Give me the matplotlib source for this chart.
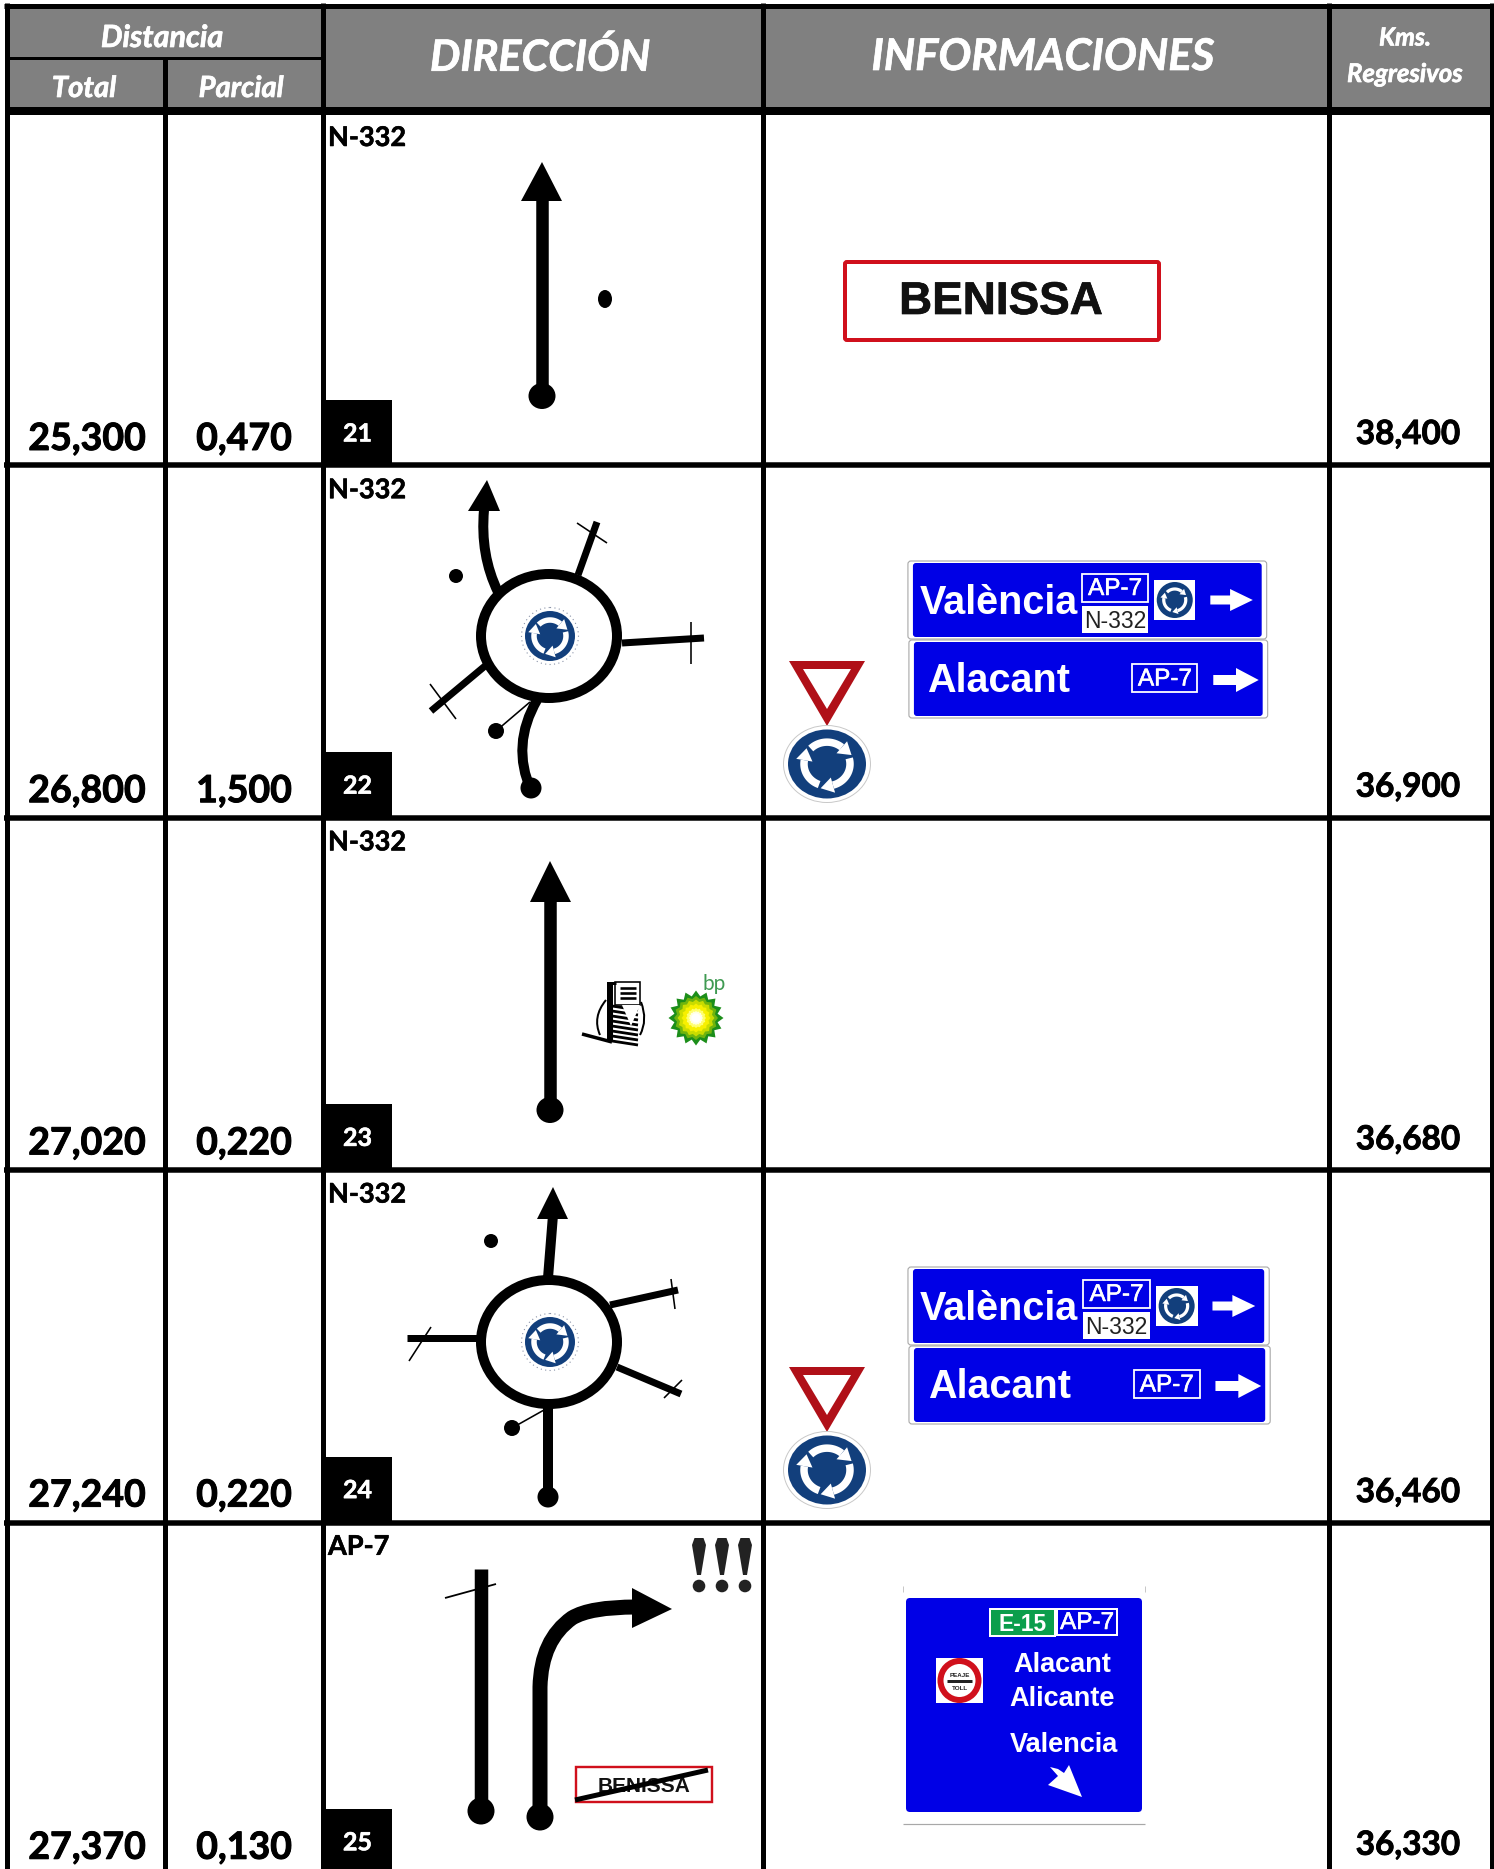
import numpy as np
import matplotlib
matplotlib.use("Agg")
import matplotlib.pyplot as plt
import matplotlib.patheffects as pe
from matplotlib.patches import Ellipse, Polygon, Rectangle, PathPatch, FancyBboxPatch
from matplotlib.path import Path

# ---- data ----
totals = ["25,300", "26,800", "27,020", "27,240", "27,370"]
partials = ["0,470", "1,500", "0,220", "0,220", "0,130"]
regressive = ["38,400", "36,900", "36,680", "36,460", "36,330"]
roads = ["N-332", "N-332", "N-332", "N-332", "AP-7"]
steps = ["21", "22", "23", "24", "25"]
col_x = [6.5, 164.5, 322.5, 763, 1328.5, 1491.5]
row_bottom = [465, 818, 1169.5, 1522.5]
HEAD = "#808080"
SIGN = "#0000E6"
RB = "#123F7C"
MAIN = ["Lato", "DejaVu Sans"]
ARIAL = ["Liberation Sans", "DejaVu Sans"]

W, H = 1494, 1869
fig = plt.figure(figsize=(W / 100, H / 100), dpi=100)
ax = fig.add_axes([0, 0, 1, 1])
ax.set_xlim(0, W)
ax.set_ylim(H, 0)
ax.axis("off")


def px(v):
    return v * 0.72


def line(x0, y0, x1, y1, w, c="black", z=3):
    ax.plot([x0, x1], [y0, y1], color=c, lw=px(w), solid_capstyle="butt", zorder=z)


def curve(pts, w, z=3):
    p = np.array(pts, float)
    codes = [Path.MOVETO] + [Path.CURVE3] * (len(p) - 1)
    ax.add_patch(PathPatch(Path(p, codes), fc="none", ec="black", lw=px(w), capstyle="butt", joinstyle="round", zorder=z))


def poly(pts, c="black", z=3, **kw):
    ax.add_patch(Polygon(pts, closed=True, fc=c, ec="none", zorder=z, **kw))


def dot(x, y, rx, ry=None, c="black", z=3):
    ax.add_patch(Ellipse((x, y), 2 * rx, 2 * (ry or rx), fc=c, ec="none", zorder=z))


def rect(x0, y0, x1, y1, c, z=2, ec="none", lw=0):
    ax.add_patch(Rectangle((x0, y0), x1 - x0, y1 - y0, fc=c, ec=ec, lw=px(lw), zorder=z))


def text(x, y, s, size, fam=MAIN, c="black", w="bold", st="normal", ha="center", va="center", z=5, stroke=0.0):
    t = ax.text(x, y, s, fontsize=size, family=fam, color=c, weight=w, style=st, ha=ha, va=va, zorder=z)
    if stroke:
        t.set_path_effects([pe.withStroke(linewidth=stroke, foreground=c)])
    return t


def rb_arrows(cx, cy, r, w, z=6, ys=1.0):
    for a0, a1 in [(-135, -50), (-15, 75), (110, 190)]:
        t = np.radians(np.linspace(a0, a1, 30))
        ax.plot(cx + r * np.cos(t), cy + ys * r * np.sin(t), color="white", lw=px(w), solid_capstyle="butt", zorder=z)
        e = np.radians(a1)
        d = np.array([-np.sin(e), np.cos(e) * ys])
        n = np.array([np.cos(e), np.sin(e) * ys])
        b = np.array([cx + r * np.cos(e), cy + ys * r * np.sin(e)])
        poly([b + n * w * 1.1, b - n * w * 1.1, b + d * w * 1.7], "white", z)


def rb_small(cx, cy):
    ax.add_patch(Ellipse((cx, cy), 57, 57, fc="white", ec="#8a93a8", lw=0.8, ls=(0, (1, 3)), zorder=4))
    dot(cx, cy, 25, 25, RB, 5)
    rb_arrows(cx, cy, 16, 5.5)


def ring(cx, cy):
    ax.add_patch(Ellipse((cx, cy), 136, 124, fc="white", ec="black", lw=px(10), zorder=3))
    rb_small(cx + 1, cy)


def arm(x0, y0, x1, y1, t0, t1):
    line(x0, y0, x1, y1, 7)
    line(t0[0], t0[1], t1[0], t1[1], 1.6)


def head(tip, bl, br):
    poly([tip, bl, br])


def yield_and_round(dy):
    poly([(789, 661 + dy), (865, 661 + dy), (827, 726 + dy)], "#B01018", 3)
    poly([(803, 669 + dy), (851, 669 + dy), (827, 709 + dy)], "white", 4)
    ax.add_patch(Ellipse((827, 764 + dy), 87, 77, fc="white", ec="#c8c8c8", lw=0.7, zorder=3))
    dot(827, 764 + dy, 39, 34.5, RB, 4)
    rb_arrows(827, 764 + dy, 23, 7.5, ys=0.95)


def white_arrow(x0, x1, xh, y, hh, sh):
    poly([(x0, y - sh), (xh, y - sh), (xh, y - hh), (x1, y), (xh, y + hh), (xh, y + sh), (x0, y + sh)], "white", 6)


def panel(x0, y0, x1, y1):
    ax.add_patch(FancyBboxPatch((x0 - 5, y0 - 2), x1 - x0 + 10, y1 - y0 + 4, boxstyle="round,pad=0,rounding_size=3",
                                fc="white", ec="#a8a8a8", lw=0.8, zorder=3))
    ax.add_patch(FancyBboxPatch((x0, y0), x1 - x0, y1 - y0, boxstyle="round,pad=0,rounding_size=3",
                                fc=SIGN, ec="none", zorder=4))


def direction_signs(dy, k):
    X = lambda v: 907 + (v - 907) * k
    panel(X(913), 563 + dy, X(1266), 637 + dy)
    panel(X(914), 642 + dy, X(1267), 716 + dy)
    text(X(999.5), 603 + dy, "València", 28.5, ARIAL, "white")
    rect(X(1084), 574 + dy, X(1151), 602 + dy, SIGN, 6, "white", 1.8)
    text(X(1117.5), 589 + dy, "AP-7", 17.5, ARIAL, "white", "normal", z=7, stroke=0.4)
    rect(X(1084), 606 + dy, X(1151), 633 + dy, "white", 6)
    text(X(1117.5), 621 + dy, "N-332", 16.5, ARIAL, "#222222", "normal", z=7)
    rect(X(1157), 580 + dy, X(1199), 620 + dy, "white", 6)
    dot(X(1178), 600 + dy, 18, 18, RB, 7)
    rb_arrows(X(1178), 600 + dy, 11, 3.2, z=8)
    white_arrow(X(1214), X(1257), X(1234), 600 + dy, 11, 4.5)
    text(X(1000), 681 + dy, "Alacant", 28.5, ARIAL, "white")
    rect(X(1135), 664 + dy, X(1201), 692 + dy, SIGN, 6, "white", 1.8)
    text(X(1168), 679.5 + dy, "AP-7", 17.5, ARIAL, "white", "normal", z=7, stroke=0.4)
    white_arrow(X(1217), X(1263), X(1240), 680 + dy, 12, 5)


# ---- table frame ----
rect(0, 0, W, H, "white", 0)
rect(col_x[0], 8, col_x[-1], 111, HEAD, 1)
hw = dict(c="white", st="italic", stroke=0.5)
text(162, 38, "Distancia", 22, **hw)
text(84, 89, "Total", 21, **hw)
text(241, 89, "Parcial", 21, **hw)
text(540, 57, "DIRECCIÓN", 31, **hw)
text(1043, 57, "INFORMACIONES", 31.5, **hw)
text(1405, 38, "Kms.", 18, **hw)
text(1405, 74, "Regresivos", 18.5, **hw)

line(4, 5.5, W, 5.5, 5, z=8)
line(col_x[0], 57.5, col_x[2], 57.5, 3, z=8)
line(col_x[0], 111, W, 111, 8, z=8)
for y in row_bottom:
    line(4, y, W, y, 5.5, z=8)
for i, x in enumerate(col_x):
    y0 = 57 if i == 1 else 3
    line(x, y0, x, H, 5, z=8)

# ---- row texts ----
for i in range(5):
    yb = 463 + 352.2 * i
    yk = 463 + 352.7 * i
    text(87, yb - 13, totals[i], 27, va="baseline", stroke=0.7)
    text(244, yb - 13, partials[i], 27, va="baseline", stroke=0.7)
    text(1408, yk - 19, regressive[i], 24, va="baseline", stroke=0.6)
    rect(324, yb - 63, 392, yb + 3, "black", 4)
    text(357.5, yb - 29, steps[i], 18, c="white", stroke=0.4)
    text(328, yb - 325, roads[i], 19.5, ha="left", stroke=0.4)

# ---- row 1 ----
line(542, 200, 542, 396, 12.5)
head((542, 162), (521, 201), (562, 201))
dot(542, 396, 13.5, 13)
dot(605, 299, 7, 9)
ax.add_patch(FancyBboxPatch((845, 262), 314, 78, boxstyle="round,pad=0,rounding_size=2", fc="white", ec="#D0101C", lw=px(4), zorder=3))
text(1001, 302, "BENISSA", 33, ARIAL, "#111111", stroke=0.5)

# ---- row 2 ----
ring(549, 636)
curve([(498, 592), (480, 555), (484, 510)], 10)
head((487, 480), (468, 511), (500, 511))
arm(578, 575, 597, 522, (577, 523), (607, 543))
arm(622, 643, 704, 638, (691, 622), (691, 664))
arm(485, 666, 431, 711, (430, 684), (456, 719))
curve([(537, 700), (511, 745), (531, 790)], 10)
dot(531, 788, 10.5)
dot(456, 576, 7)
dot(496, 731, 8)
line(496, 731, 530, 702, 1.6)
yield_and_round(0)
direction_signs(0, 0.988)

# ---- row 3 ----
line(550, 900, 550, 1110, 12.5)
head((550, 861), (530, 902), (571, 902))
dot(550, 1110, 13.5, 13)
# fuel pump
rect(615, 982, 640, 1005, "white", 3, "black", 1.6)
for yy in (988, 993, 998):
    line(620, yy, 636, yy, 2.6, z=4)
for k, yy in enumerate(range(1006, 1042, 5)):
    line(612, yy, 638, yy + 4, 2.8)
poly([(622, 1005), (640, 1005), (631, 1026)], "white", 4)
line(610, 982, 610, 1042, 6)
line(608, 983, 616, 983, 3)
curve([(606, 1000), (592, 1017), (600, 1035)], 2)
curve([(641, 1002), (648, 1020), (640, 1035)], 2)
line(582, 1034, 612, 1042, 3.5)
# bp mark
t = np.linspace(0, 2 * np.pi, 32, endpoint=False)
rr = np.where(np.arange(32) % 2 == 0, 27.5, 22)
poly(np.c_[696 + rr * np.sin(t), 1018 + rr * np.cos(t)], "#1C8E1A", 3)
for r, c, zz in [(22, "#6FB40E", 4), (18.5, "#C9DC00", 5), (14.5, "#F7F000", 6), (10, "#FFFF70", 7), (7, "#FFFFE0", 8), (5, "white", 9)]:
    rk = r * np.where(np.arange(32) % 2 == 0, 1.0, 0.88)
    poly(np.c_[696 + rk * np.sin(t), 1018 + rk * np.cos(t)], c, zz)
text(714, 984, "bp", 15, MAIN, "#3F9A52", "normal")

# ---- row 4 ----
ring(549, 1342)
line(548, 1278, 553, 1215, 10)
head((553, 1187), (537, 1219), (568, 1219))
arm(610, 1305, 678, 1290, (671, 1279), (675, 1309))
arm(617, 1367, 681, 1394, (664, 1398), (682, 1380))
arm(478, 1338, 407, 1338, (431, 1327), (409, 1361))
line(548, 1405, 548, 1498, 10)
dot(548, 1497, 10.5)
dot(491, 1241, 7)
dot(512, 1428, 8)
line(512, 1428, 544, 1410, 1.6)
yield_and_round(706)
direction_signs(706, 0.995)

# ---- row 5 ----
line(481, 1569, 481, 1811, 13.5)
line(445, 1598, 496, 1584, 1.8)
dot(481, 1811, 13.5, 13.5)
ax.add_patch(PathPatch(Path([(540, 1817), (540, 1687), (541, 1640), (572, 1618), (590, 1607), (636, 1607)],
                            [Path.MOVETO, Path.LINETO, Path.CURVE3, Path.CURVE3, Path.CURVE3, Path.CURVE3]),
                       fc="none", ec="black", lw=px(15), capstyle="butt", zorder=3))
head((672, 1609), (632, 1588), (632, 1628))
dot(540, 1817, 13.5, 13.5)
for x in (699, 722, 745):
    poly([(x - 7, 1545), (x - 4.5, 1538), (x + 4.5, 1538), (x + 7, 1545), (x + 2, 1575), (x - 2, 1575)], "#222222")
    dot(x, 1586, 6.3, 6.3, "#222222")
rect(576, 1767, 712, 1802, "white", 3, "#D0101C", 2.4)
text(644, 1786, "BENISSA", 15, ARIAL, "#111111", z=4)
line(575, 1800, 708, 1770, 5, z=5)

rect(903, 1585, 1145, 1824, "white", 3)
line(903, 1824, 1145, 1824, 1.2, "#a8a8a8", 3)
line(903, 1586, 903, 1592, 1, "#c8c8c8", 3)
line(1145, 1586, 1145, 1592, 1, "#c8c8c8", 3)
ax.add_patch(FancyBboxPatch((906, 1598), 236, 214, boxstyle="round,pad=0,rounding_size=4", fc=SIGN, ec="none", zorder=4))
rect(990, 1609, 1055, 1636, "#0B9E4C", 5, "white", 2)
text(1022.5, 1624, "E-15", 16.5, ARIAL, "white", z=6)
rect(1057, 1609, 1117, 1635, SIGN, 5, "white", 2)
text(1087, 1623, "AP-7", 17.5, ARIAL, "white", "normal", z=6, stroke=0.4)
text(1062, 1665, "Alacant", 19.5, ARIAL, "white", z=6)
text(1062, 1699, "Alicante", 19.5, ARIAL, "white", z=6)
text(1064, 1745, "Valencia", 19.5, ARIAL, "white", z=6)
rect(936, 1658, 983, 1703, "white", 5)
ax.add_patch(Ellipse((959.5, 1680.5), 38, 39, fc="white", ec="#D0101C", lw=px(6), zorder=6))
text(959.5, 1675, "PEAJE", 4.5, ARIAL, "#222222", z=7)
line(947, 1681, 972, 1681, 3, "#222222", 7)
text(959.5, 1688, "TOLL", 4.5, ARIAL, "#222222", z=7)
poly([(1082, 1797), (1048, 1785), (1058, 1776), (1050, 1767), (1058, 1769), (1064, 1773), (1069, 1765)], "white", 6)

fig.savefig("out.png", dpi=100)
